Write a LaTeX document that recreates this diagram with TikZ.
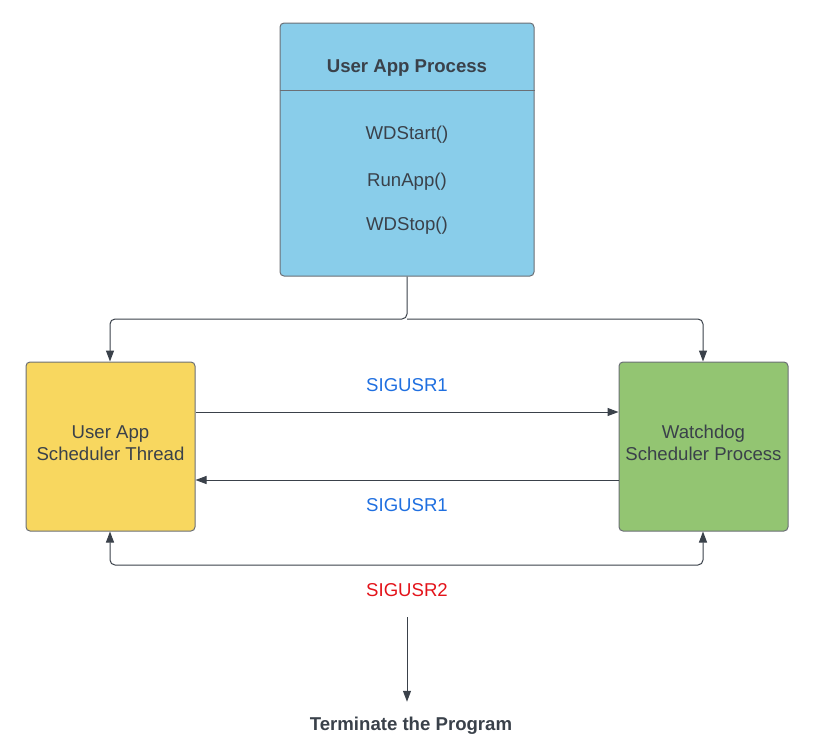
\documentclass[tikz,border=0pt]{standalone}
\usepackage{fontspec}
\setmainfont{Liberation Sans}
\usetikzlibrary{arrows.meta}
\usetikzlibrary{positioning}

\definecolor{inkgray}{HTML}{3A414A}
\definecolor{edgegray}{HTML}{6B6F75}
\definecolor{procblue}{HTML}{89CDEA}
\definecolor{threadyellow}{HTML}{F8D75F}
\definecolor{dogreen}{HTML}{93C572}
\definecolor{sigblue}{HTML}{1F6FE0}
\definecolor{sigred}{HTML}{E3131A}

\tikzset{
  box/.style={draw=edgegray, line width=1pt, rounded corners=4pt, text=inkgray,
    inner sep=0pt, align=center, font=\fontsize{18.6}{22}\selectfont},
  label/.style={font=\fontsize{18.6}{22}\selectfont, text=inkgray},
  link/.style={draw=inkgray, line width=1pt, rounded corners=5pt,
    -{Triangle[length=11pt,width=8pt]}},
}

\begin{document}
\begin{tikzpicture}[x=1pt, y=-1pt]
\useasboundingbox (0,0) rectangle (817,753);

% User app process box
\node[box, fill=procblue, minimum width=254pt, minimum height=253pt] (proc) at (407,149.5) {};
\draw[edgegray, line width=1pt] (proc.west |- 0,90) -- (proc.east |- 0,90);
\node[label, font=\fontsize{18.6}{22}\selectfont\bfseries] (title) at (407,68) {User App Process};
\node[label] (start) at (407,135) {WDStart()};
\node[label] (run) at (407,182) {RunApp()};
\node[label] (stop) at (407,226) {WDStop()};

% The two schedulers
\node[box, fill=threadyellow, minimum width=169pt, minimum height=169pt, text depth=7pt] (thread) at (110.5,446.5) {User App\\Scheduler Thread};
\node[box, fill=dogreen, minimum width=169pt, minimum height=169pt, text depth=7pt] (dog) at (703.5,446.5) {Watchdog\\Scheduler Process};

% Fork from the process
\coordinate (fork) at (407,319);
\draw[link] (proc.south) -- (fork) -| ([xshift=-0.5pt]thread.north);
\draw[link] (fork) -| ([xshift=-0.5pt]dog.north);

% Signals between the schedulers
\draw[link] ([yshift=34.5pt]thread.east) -- ([yshift=34.5pt]dog.west);
\node[label, text=sigblue] (sig1a) at (407,385) {SIGUSR1};
\draw[link] ([yshift=-33.5pt]dog.west) -- ([yshift=-33.5pt]thread.east);
\node[label, text=sigblue] (sig1b) at (407,505) {SIGUSR1};

% SIGUSR2 to both
\draw[link, {Triangle[length=11pt,width=8pt]}-{Triangle[length=11pt,width=8pt]}]
  ([xshift=-0.5pt]thread.south) |- (407,565) -| ([xshift=-0.5pt]dog.south);
\node[label, text=sigred] (sig2) at (407,590) {SIGUSR2};

% End of the program
\node[label, font=\fontsize{18.6}{22}\selectfont\bfseries] (term) at (411,726) {Terminate the Program};
\coordinate (drop) at (407,617);
\draw[link] (drop) -- ([yshift=12pt]term.north -| drop);
\end{tikzpicture}
\end{document}
